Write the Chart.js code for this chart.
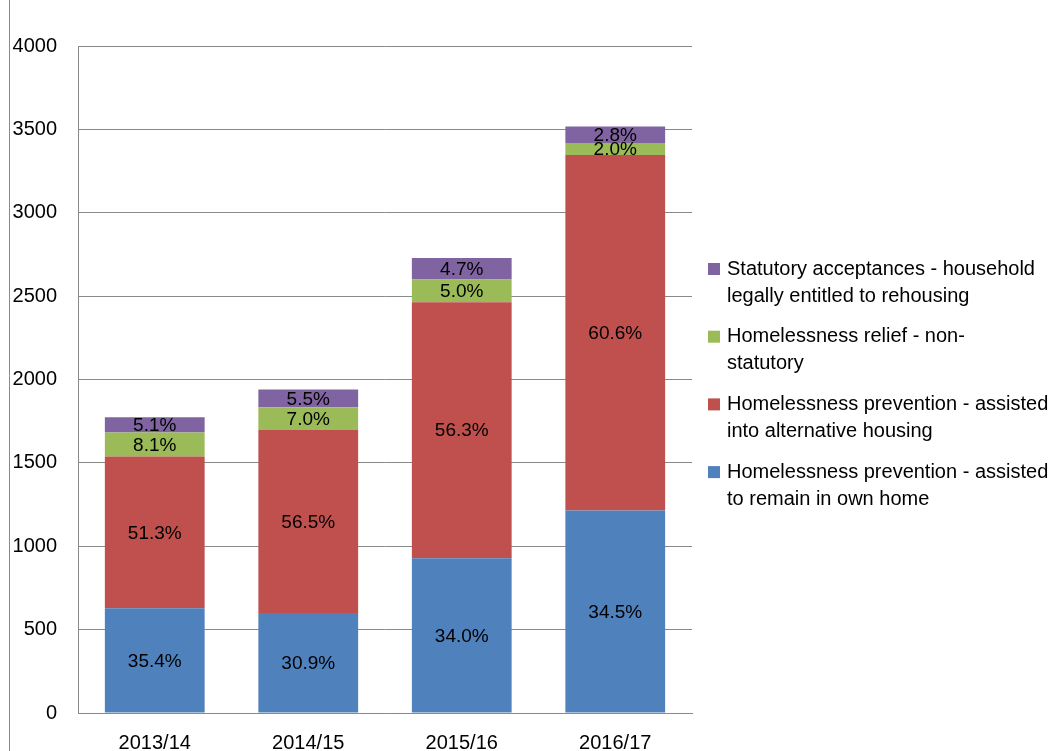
<!DOCTYPE html>
<html>
<head>
<meta charset="utf-8">
<script src="https://cdn.jsdelivr.net/npm/chart.js@4.4.0/dist/chart.umd.min.js"></script>
<style>
  html, body { margin: 0; padding: 0; background: #fff; }
  #wrap { width: 1059px; height: 751px; position: relative; }
</style>
</head>
<body>
<div id="wrap"><canvas id="canvas" width="1059" height="751"></canvas></div>
<script>
    var years = ["2013/14", "2014/15", "2015/16", "2016/17"];
    var remainHome = [628, 600, 928, 1214];
    var alternativeHousing = [910, 1097, 1536, 2133];
    var reliefNonStatutory = [144, 136, 136, 71];
    var statutoryAcceptances = [91, 107, 128, 99];
    var yTicks = [0, 500, 1000, 1500, 2000, 2500, 3000, 3500, 4000];

    var fontName = "'Liberation Sans', Arial, sans-serif";

    var totals = years.map(function(y, i) {
        return remainHome[i] + alternativeHousing[i] + reliefNonStatutory[i] + statutoryAcceptances[i];
    });

    // percentage of the year's total, drawn in the middle of each segment
    var segmentLabels = {
        id: 'segmentLabels',
        afterDatasetsDraw: function(chart) {
            var ctx = chart.ctx;
            ctx.save();
            ctx.font = '19px ' + fontName;
            ctx.fillStyle = '#000';
            ctx.textAlign = 'center';
            ctx.textBaseline = 'middle';
            chart.data.datasets.forEach(function(ds, d) {
                chart.getDatasetMeta(d).data.forEach(function(bar, i) {
                    var pct = (ds.data[i] / totals[i] * 100).toFixed(1) + '%';
                    ctx.fillText(pct, bar.x, (bar.y + bar.base) / 2 + 1);
                });
            });
            ctx.restore();
        }
    };

    // two-line legend on the right, top series first
    var sideLegend = {
        id: 'sideLegend',
        afterDraw: function(chart) {
            var ctx = chart.ctx;
            ctx.save();
            ctx.font = '20px ' + fontName;
            ctx.textBaseline = 'middle';
            ctx.textAlign = 'left';
            var items = chart.data.datasets.slice().reverse();
            items.forEach(function(ds, k) {
                var y = 269 + k * 67.7;
                ctx.fillStyle = ds.backgroundColor;
                ctx.fillRect(708, y - 6, 12, 12);
                ctx.fillStyle = '#000';
                ds.legendLines.forEach(function(line, j) {
                    ctx.fillText(line, 727, y + j * 27);
                });
            });
            ctx.restore();
        }
    };

    var outerBorder = {
        id: 'outerBorder',
        beforeDraw: function(chart) {
            var ctx = chart.ctx;
            ctx.save();
            ctx.strokeStyle = '#8a8a8a';
            ctx.lineWidth = 1;
            ctx.beginPath();
            ctx.moveTo(9.5, 0);
            ctx.lineTo(9.5, 751);
            ctx.stroke();
            ctx.restore();
        }
    };

    var config = {
        type: 'bar',
        data: {
            labels: years,
            datasets: [{
                label: "Homelessness prevention - assisted to remain in own home",
                legendLines: ["Homelessness prevention - assisted", "to remain in own home"],
                backgroundColor: "#4F81BD",
                data: remainHome
            }, {
                label: "Homelessness prevention - assisted into alternative housing",
                legendLines: ["Homelessness prevention - assisted", "into alternative housing"],
                backgroundColor: "#C0504D",
                data: alternativeHousing
            }, {
                label: "Homelessness relief - non-statutory",
                legendLines: ["Homelessness relief - non-", "statutory"],
                backgroundColor: "#9BBB59",
                data: reliefNonStatutory
            }, {
                label: "Statutory acceptances - household legally entitled to rehousing",
                legendLines: ["Statutory acceptances - household", "legally entitled to rehousing"],
                backgroundColor: "#8064A2",
                data: statutoryAcceptances
            }]
        },
        options: {
            responsive: false,
            animation: false,
            layout: {
                padding: { left: 0, right: 367, top: 46, bottom: 0 }
            },
            datasets: {
                bar: { categoryPercentage: 1.0, barPercentage: 0.65 }
            },
            plugins: {
                legend: { display: false },
                tooltip: { enabled: false }
            },
            scales: {
                x: {
                    stacked: true,
                    grid: { display: false, drawTicks: false },
                    border: { color: '#8a8a8a', width: 1 },
                    ticks: { color: '#000', font: { family: fontName, size: 20 }, padding: 18 },
                    afterFit: function(scale) { scale.height = 38; }
                },
                y: {
                    stacked: true,
                    min: 0,
                    max: 4000,
                    afterBuildTicks: function(scale) {
                        scale.ticks = yTicks.map(function(v) { return { value: v }; });
                    },
                    grid: { color: '#8a8a8a', lineWidth: 1, drawTicks: false },
                    border: { color: '#8a8a8a', width: 1 },
                    ticks: {
                        color: '#000',
                        font: { family: fontName, size: 20 },
                        padding: 21,
                        callback: function(v) { return String(v); }
                    },
                    afterFit: function(scale) { scale.width = 78; }
                }
            }
        },
        plugins: [outerBorder, segmentLabels, sideLegend]
    };

    window.onload = function() {
        window.myBar = new Chart(document.getElementById("canvas"), config);
    };
</script>
</body>
</html>
